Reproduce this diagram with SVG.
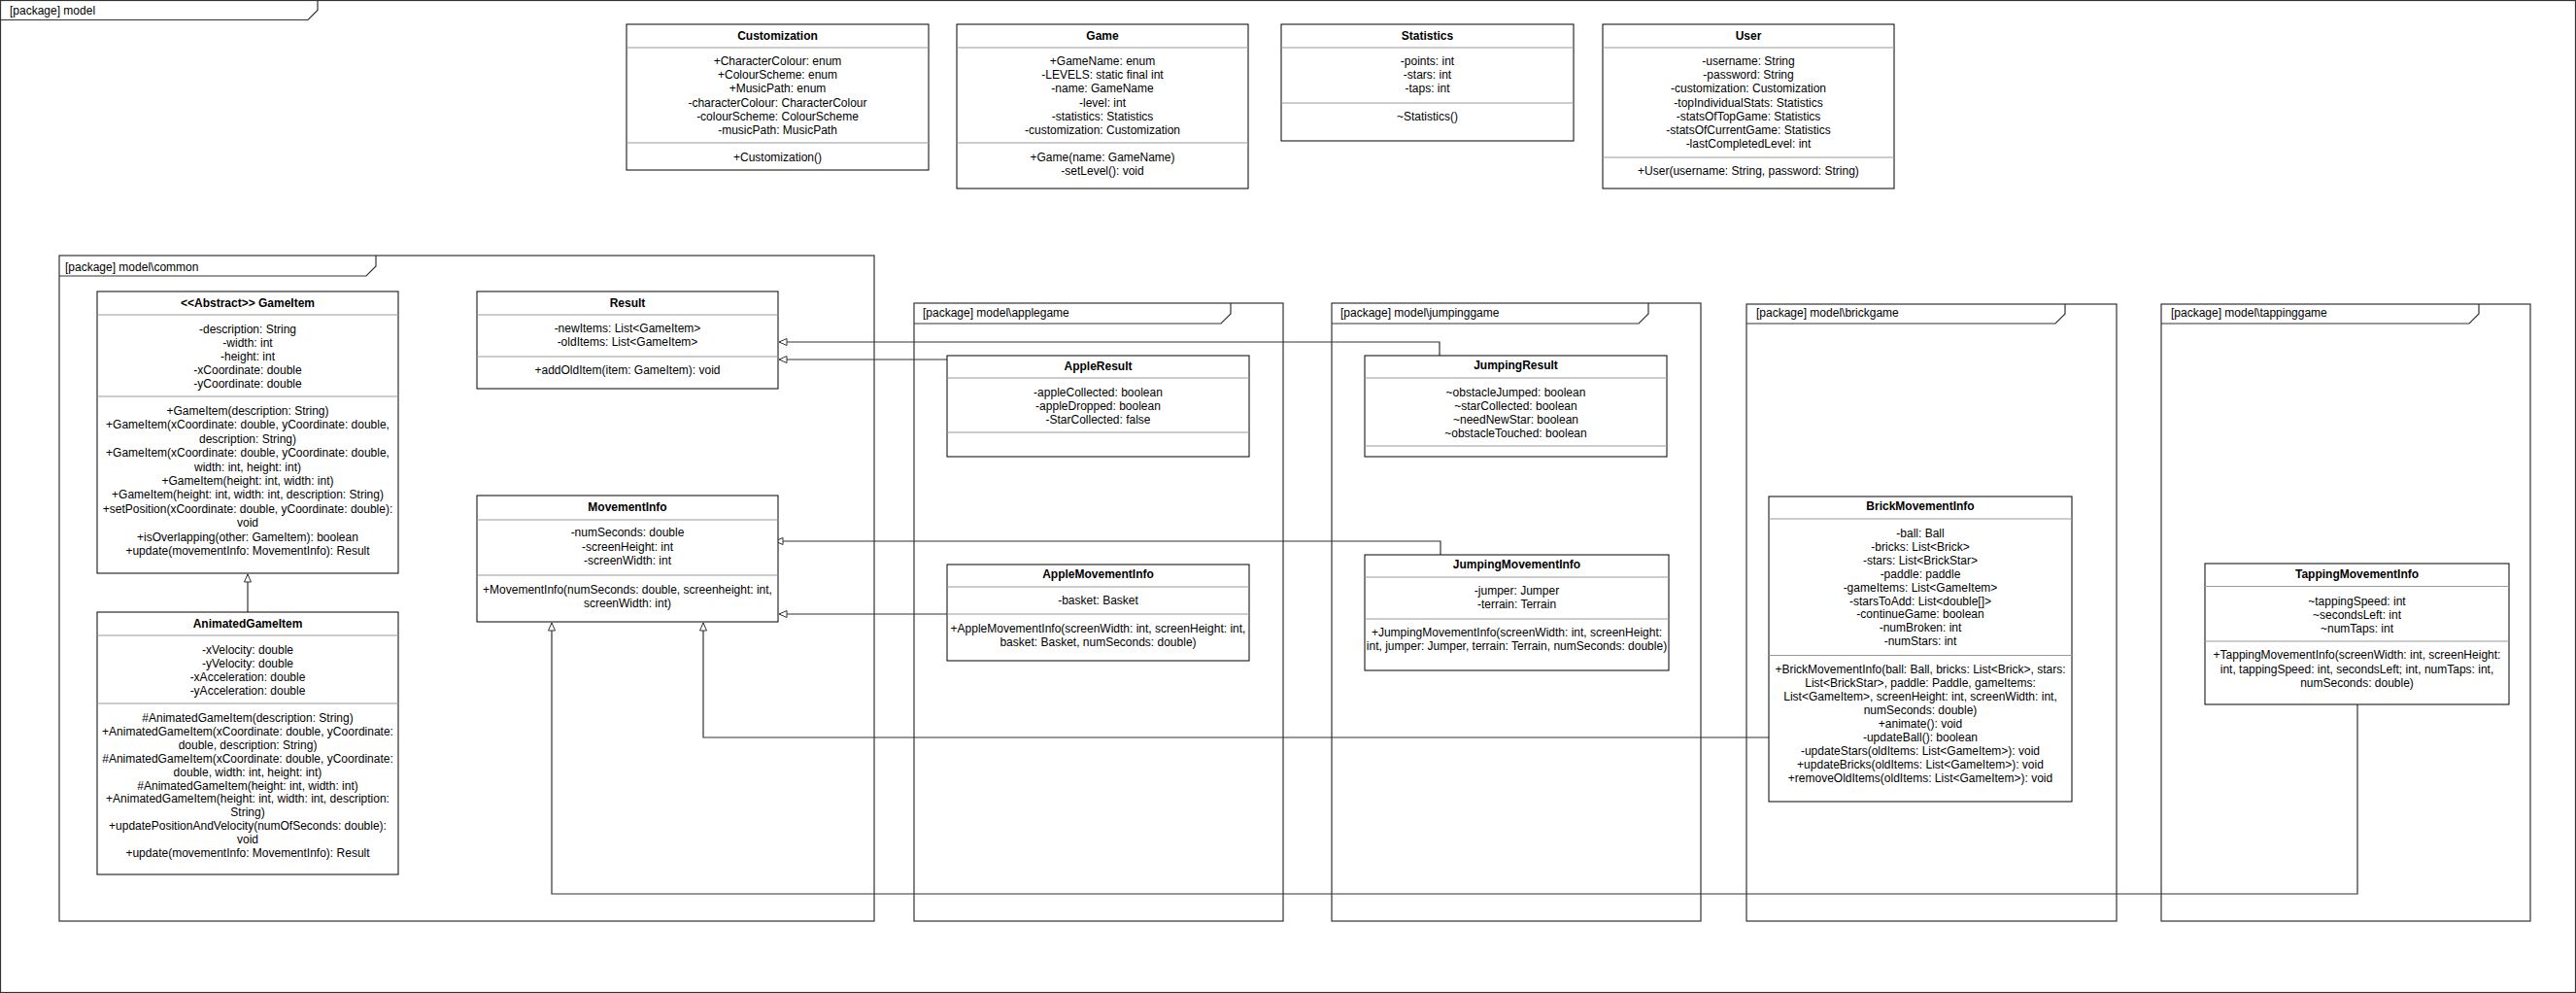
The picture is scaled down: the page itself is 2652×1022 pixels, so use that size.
<svg xmlns="http://www.w3.org/2000/svg" width="2652" height="1022" viewBox="0 0 2652 1022">
<style>
.box{fill:#fff;stroke:#000;stroke-width:1}
.sep{stroke:#999;stroke-width:1}
.pkg{fill:none;stroke:#333;stroke-width:1.2}
.t{font-family:"Liberation Sans",Arial,sans-serif;font-size:12px;text-anchor:middle;fill:#000}
.h{font-weight:bold}
.pl{font-family:"Liberation Sans",Arial,sans-serif;font-size:12px;text-anchor:start;fill:#000}
.conn{fill:none;stroke:#333;stroke-width:1.2;marker-end:url(#tri)}
</style>
<defs>
<marker id="tri" markerWidth="12" markerHeight="10" refX="9" refY="4" orient="auto" markerUnits="userSpaceOnUse">
<path d="M1,0.5 L9,4 L1,7.5 Z" fill="#fff" stroke="#333" stroke-width="1"/>
</marker>
</defs>
<rect width="2652" height="1022" fill="#fff"/>

<g id="pkg-model">
<rect class="pkg" x="0.5" y="0.5" width="2651" height="1021"/>
<path class="pkg" d="M0.5,20.5 H317 L327,10.5 V0.5"/>
<text class="pl" x="10" y="15">[package] model</text>
</g>
<g id="pkg-common">
<rect class="pkg" x="61" y="263" width="839" height="685"/>
<path class="pkg" d="M61,284 H377 L387,274 V263"/>
<text class="pl" x="67" y="279">[package] model\common</text>
</g>
<g id="pkg-applegame">
<rect class="pkg" x="941" y="312" width="380" height="636"/>
<path class="pkg" d="M941,333 H1257 L1267,323 V312"/>
<text class="pl" x="950" y="326">[package] model\applegame</text>
</g>
<g id="pkg-jumpinggame">
<rect class="pkg" x="1371" y="312" width="380" height="636"/>
<path class="pkg" d="M1371,333 H1687 L1697,323 V312"/>
<text class="pl" x="1380" y="326">[package] model\jumpinggame</text>
</g>
<g id="pkg-brickgame">
<rect class="pkg" x="1798" y="313" width="381" height="635"/>
<path class="pkg" d="M1798,333 H2116 L2126,323 V313"/>
<text class="pl" x="1808" y="326">[package] model\brickgame</text>
</g>
<g id="pkg-tappinggame">
<rect class="pkg" x="2225" y="313" width="380" height="635"/>
<path class="pkg" d="M2225,333 H2542 L2552,323 V313"/>
<text class="pl" x="2235" y="326">[package] model\tappinggame</text>
</g>

<g id="connectors">
<path class="conn" d="M255,630 V591"/>
<path class="conn" d="M1482,366 V352 H802"/>
<path class="conn" d="M975,370 H802"/>
<path class="conn" d="M1483,571 V557 H798"/>
<path class="conn" d="M975,632 H802"/>
<path class="conn" d="M1821,759 H724 V641"/>
<path class="conn" d="M2427,725 V920 H568 V641"/>
</g>

<g id="Customization">
<rect class="box" x="645" y="25" width="311" height="150"/>
<line class="sep" x1="645" y1="49" x2="956" y2="49"/>
<line class="sep" x1="645" y1="147" x2="956" y2="147"/>
<text class="t h" x="800.5" y="41">Customization</text>
<text class="t" x="800.5" y="67">+CharacterColour: enum</text>
<text class="t" x="800.5" y="81.2">+ColourScheme: enum</text>
<text class="t" x="800.5" y="95.4">+MusicPath: enum</text>
<text class="t" x="800.5" y="109.6">-characterColour: CharacterColour</text>
<text class="t" x="800.5" y="123.8">-colourScheme: ColourScheme</text>
<text class="t" x="800.5" y="138">-musicPath: MusicPath</text>
<text class="t" x="800.5" y="166">+Customization()</text>
</g>

<g id="Game">
<rect class="box" x="985" y="25" width="300" height="169"/>
<line class="sep" x1="985" y1="49" x2="1285" y2="49"/>
<line class="sep" x1="985" y1="147" x2="1285" y2="147"/>
<text class="t h" x="1135" y="41">Game</text>
<text class="t" x="1135" y="67">+GameName: enum</text>
<text class="t" x="1135" y="81.2">-LEVELS: static final int</text>
<text class="t" x="1135" y="95.4">-name: GameName</text>
<text class="t" x="1135" y="109.6">-level: int</text>
<text class="t" x="1135" y="123.8">-statistics: Statistics</text>
<text class="t" x="1135" y="138">-customization: Customization</text>
<text class="t" x="1135" y="166">+Game(name: GameName)</text>
<text class="t" x="1135" y="180">-setLevel(): void</text>
</g>

<g id="Statistics">
<rect class="box" x="1319" y="25" width="301" height="120"/>
<line class="sep" x1="1319" y1="49" x2="1620" y2="49"/>
<line class="sep" x1="1319" y1="106" x2="1620" y2="106"/>
<text class="t h" x="1469.5" y="41">Statistics</text>
<text class="t" x="1469.5" y="67">-points: int</text>
<text class="t" x="1469.5" y="81.2">-stars: int</text>
<text class="t" x="1469.5" y="95.4">-taps: int</text>
<text class="t" x="1469.5" y="124">~Statistics()</text>
</g>

<g id="User">
<rect class="box" x="1650" y="25" width="300" height="169"/>
<line class="sep" x1="1650" y1="49" x2="1950" y2="49"/>
<line class="sep" x1="1650" y1="162" x2="1950" y2="162"/>
<text class="t h" x="1800" y="41">User</text>
<text class="t" x="1800" y="67">-username: String</text>
<text class="t" x="1800" y="81.2">-password: String</text>
<text class="t" x="1800" y="95.4">-customization: Customization</text>
<text class="t" x="1800" y="109.6">-topIndividualStats: Statistics</text>
<text class="t" x="1800" y="123.8">-statsOfTopGame: Statistics</text>
<text class="t" x="1800" y="138">-statsOfCurrentGame: Statistics</text>
<text class="t" x="1800" y="152.2">-lastCompletedLevel: int</text>
<text class="t" x="1800" y="180">+User(username: String, password: String)</text>
</g>

<g id="GameItem">
<rect class="box" x="100" y="300" width="310" height="290"/>
<line class="sep" x1="100" y1="324" x2="410" y2="324"/>
<line class="sep" x1="100" y1="408" x2="410" y2="408"/>
<text class="t h" x="255" y="316">&lt;&lt;Abstract&gt;&gt; GameItem</text>
<text class="t" x="255" y="343">-description: String</text>
<text class="t" x="255" y="357">-width: int</text>
<text class="t" x="255" y="371">-height: int</text>
<text class="t" x="255" y="385">-xCoordinate: double</text>
<text class="t" x="255" y="399">-yCoordinate: double</text>
<text class="t" x="255" y="427">+GameItem(description: String)</text>
<text class="t" x="255" y="441.4">+GameItem(xCoordinate: double, yCoordinate: double,</text>
<text class="t" x="255" y="455.8">description: String)</text>
<text class="t" x="255" y="470.2">+GameItem(xCoordinate: double, yCoordinate: double,</text>
<text class="t" x="255" y="484.6">width: int, height: int)</text>
<text class="t" x="255" y="499">+GameItem(height: int, width: int)</text>
<text class="t" x="255" y="513.4">+GameItem(height: int, width: int, description: String)</text>
<text class="t" x="255" y="527.8">+setPosition(xCoordinate: double, yCoordinate: double):</text>
<text class="t" x="255" y="542.2">void</text>
<text class="t" x="255" y="556.6">+isOverlapping(other: GameItem): boolean</text>
<text class="t" x="255" y="571">+update(movementInfo: MovementInfo): Result</text>
</g>

<g id="AnimatedGameItem">
<rect class="box" x="100" y="630" width="310" height="270"/>
<line class="sep" x1="100" y1="654" x2="410" y2="654"/>
<line class="sep" x1="100" y1="724" x2="410" y2="724"/>
<text class="t h" x="255" y="646">AnimatedGameItem</text>
<text class="t" x="255" y="673">-xVelocity: double</text>
<text class="t" x="255" y="687">-yVelocity: double</text>
<text class="t" x="255" y="701">-xAcceleration: double</text>
<text class="t" x="255" y="715">-yAcceleration: double</text>
<text class="t" x="255" y="743">#AnimatedGameItem(description: String)</text>
<text class="t" x="255" y="756.9">+AnimatedGameItem(xCoordinate: double, yCoordinate:</text>
<text class="t" x="255" y="770.8">double, description: String)</text>
<text class="t" x="255" y="784.7">#AnimatedGameItem(xCoordinate: double, yCoordinate:</text>
<text class="t" x="255" y="798.6">double, width: int, height: int)</text>
<text class="t" x="255" y="812.5">#AnimatedGameItem(height: int, width: int)</text>
<text class="t" x="255" y="826.4">+AnimatedGameItem(height: int, width: int, description:</text>
<text class="t" x="255" y="840.3">String)</text>
<text class="t" x="255" y="854.2">+updatePositionAndVelocity(numOfSeconds: double):</text>
<text class="t" x="255" y="868.1">void</text>
<text class="t" x="255" y="882">+update(movementInfo: MovementInfo): Result</text>
</g>

<g id="Result">
<rect class="box" x="491" y="300" width="310" height="100"/>
<line class="sep" x1="491" y1="324" x2="801" y2="324"/>
<line class="sep" x1="491" y1="367" x2="801" y2="367"/>
<text class="t h" x="646" y="316">Result</text>
<text class="t" x="646" y="342">-newItems: List&lt;GameItem&gt;</text>
<text class="t" x="646" y="356">-oldItems: List&lt;GameItem&gt;</text>
<text class="t" x="646" y="385">+addOldItem(item: GameItem): void</text>
</g>

<g id="MovementInfo">
<rect class="box" x="491" y="510" width="310" height="130"/>
<line class="sep" x1="491" y1="535" x2="801" y2="535"/>
<line class="sep" x1="491" y1="592" x2="801" y2="592"/>
<text class="t h" x="646" y="526">MovementInfo</text>
<text class="t" x="646" y="552">-numSeconds: double</text>
<text class="t" x="646" y="566.5">-screenHeight: int</text>
<text class="t" x="646" y="581">-screenWidth: int</text>
<text class="t" x="646" y="611">+MovementInfo(numSeconds: double, screenheight: int,</text>
<text class="t" x="646" y="624.5">screenWidth: int)</text>
</g>

<g id="AppleResult">
<rect class="box" x="975" y="366" width="311" height="104"/>
<line class="sep" x1="975" y1="389" x2="1286" y2="389"/>
<line class="sep" x1="975" y1="445" x2="1286" y2="445"/>
<text class="t h" x="1130.5" y="381">AppleResult</text>
<text class="t" x="1130.5" y="408">-appleCollected: boolean</text>
<text class="t" x="1130.5" y="422">-appleDropped: boolean</text>
<text class="t" x="1130.5" y="436">-StarCollected: false</text>
</g>

<g id="AppleMovementInfo">
<rect class="box" x="975" y="581" width="311" height="99"/>
<line class="sep" x1="975" y1="604" x2="1286" y2="604"/>
<line class="sep" x1="975" y1="632" x2="1286" y2="632"/>
<text class="t h" x="1130.5" y="595">AppleMovementInfo</text>
<text class="t" x="1130.5" y="622">-basket: Basket</text>
<text class="t" x="1130.5" y="651">+AppleMovementInfo(screenWidth: int, screenHeight: int,</text>
<text class="t" x="1130.5" y="665">basket: Basket, numSeconds: double)</text>
</g>

<g id="JumpingResult">
<rect class="box" x="1405" y="366" width="311" height="104"/>
<line class="sep" x1="1405" y1="389" x2="1716" y2="389"/>
<line class="sep" x1="1405" y1="459" x2="1716" y2="459"/>
<text class="t h" x="1560.5" y="380">JumpingResult</text>
<text class="t" x="1560.5" y="408">~obstacleJumped: boolean</text>
<text class="t" x="1560.5" y="422">~starCollected: boolean</text>
<text class="t" x="1560.5" y="436">~needNewStar: boolean</text>
<text class="t" x="1560.5" y="450">~obstacleTouched: boolean</text>
</g>

<g id="JumpingMovementInfo">
<rect class="box" x="1405" y="571" width="313" height="119"/>
<line class="sep" x1="1405" y1="594" x2="1718" y2="594"/>
<line class="sep" x1="1405" y1="637" x2="1718" y2="637"/>
<text class="t h" x="1561.5" y="585">JumpingMovementInfo</text>
<text class="t" x="1561.5" y="612">-jumper: Jumper</text>
<text class="t" x="1561.5" y="626">-terrain: Terrain</text>
<text class="t" x="1561.5" y="655">+JumpingMovementInfo(screenWidth: int, screenHeight:</text>
<text class="t" x="1561.5" y="669">int, jumper: Jumper, terrain: Terrain, numSeconds: double)</text>
</g>

<g id="BrickMovementInfo">
<rect class="box" x="1821" y="511" width="312" height="314"/>
<line class="sep" x1="1821" y1="534" x2="2133" y2="534"/>
<line class="sep" x1="1821" y1="674.5" x2="2133" y2="674.5"/>
<text class="t h" x="1977" y="525">BrickMovementInfo</text>
<text class="t" x="1977" y="553">-ball: Ball</text>
<text class="t" x="1977" y="566.9">-bricks: List&lt;Brick&gt;</text>
<text class="t" x="1977" y="580.8">-stars: List&lt;BrickStar&gt;</text>
<text class="t" x="1977" y="594.7">-paddle: paddle</text>
<text class="t" x="1977" y="608.6">-gameItems: List&lt;GameItem&gt;</text>
<text class="t" x="1977" y="622.5">-starsToAdd: List&lt;double[]&gt;</text>
<text class="t" x="1977" y="636.4">-continueGame: boolean</text>
<text class="t" x="1977" y="650.3">-numBroken: int</text>
<text class="t" x="1977" y="664.2">-numStars: int</text>
<text class="t" x="1977" y="693">+BrickMovementInfo(ball: Ball, bricks: List&lt;Brick&gt;, stars:</text>
<text class="t" x="1977" y="707">List&lt;BrickStar&gt;, paddle: Paddle, gameItems:</text>
<text class="t" x="1977" y="721">List&lt;GameItem&gt;, screenHeight: int, screenWidth: int,</text>
<text class="t" x="1977" y="735">numSeconds: double)</text>
<text class="t" x="1977" y="749">+animate(): void</text>
<text class="t" x="1977" y="763">-updateBall(): boolean</text>
<text class="t" x="1977" y="777">-updateStars(oldItems: List&lt;GameItem&gt;): void</text>
<text class="t" x="1977" y="791">+updateBricks(oldItems: List&lt;GameItem&gt;): void</text>
<text class="t" x="1977" y="805">+removeOldItems(oldItems: List&lt;GameItem&gt;): void</text>
</g>

<g id="TappingMovementInfo">
<rect class="box" x="2270" y="580" width="313" height="145"/>
<line class="sep" x1="2270" y1="603.5" x2="2583" y2="603.5"/>
<line class="sep" x1="2270" y1="660" x2="2583" y2="660"/>
<text class="t h" x="2426.5" y="595">TappingMovementInfo</text>
<text class="t" x="2426.5" y="623">~tappingSpeed: int</text>
<text class="t" x="2426.5" y="637">~secondsLeft: int</text>
<text class="t" x="2426.5" y="651">~numTaps: int</text>
<text class="t" x="2426.5" y="678">+TappingMovementInfo(screenWidth: int, screenHeight:</text>
<text class="t" x="2426.5" y="692.5">int, tappingSpeed: int, secondsLeft; int, numTaps: int,</text>
<text class="t" x="2426.5" y="707">numSeconds: double)</text>
</g>
</svg>
